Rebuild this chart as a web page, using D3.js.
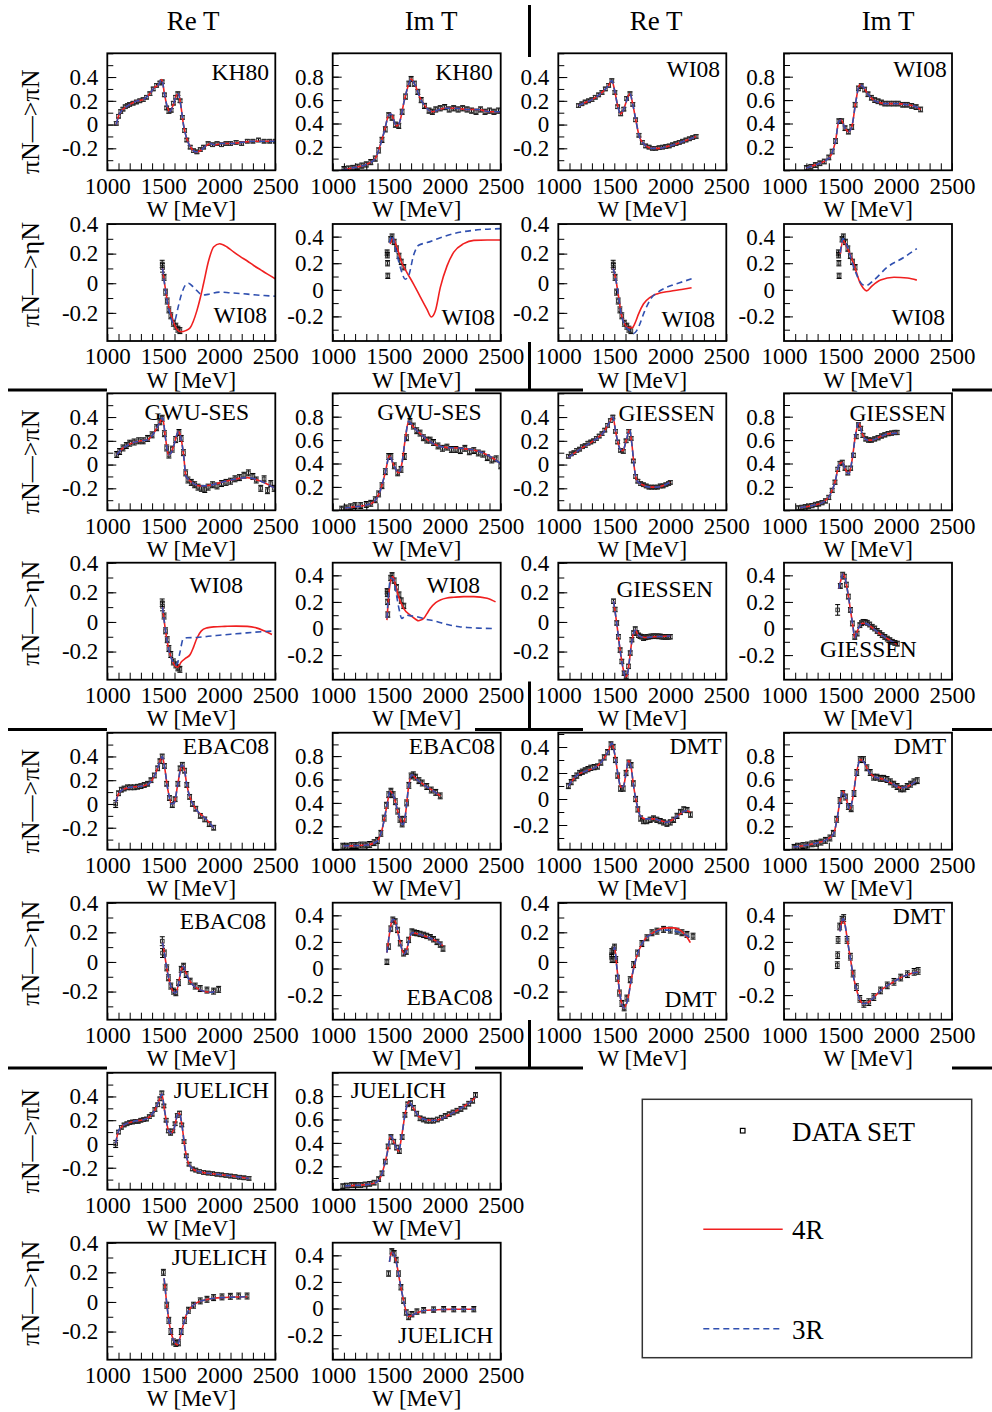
<!DOCTYPE html>
<html>
<head>
<meta charset="utf-8">
<script src="https://cdn.jsdelivr.net/npm/d3@7"></script>
<style>
  body { margin: 0; background: #fff; }
  svg text { font-family: "Liberation Serif", "Times New Roman", serif; fill: #000; }
</style>
</head>
<body>
<div id="chart"></div>
<script>
// ---- axis values ----
const wTicks = [1000, 1500, 2000, 2500];
const headers = ["Re T", "Im T", "Re T", "Im T"];
const rowLabels = ["πN—>πN", "πN—>ηN"];

// ---- data sets: [W, value, (error)] ----
const kh80PiReData = [[1080,0.01],[1100,0.07],[1120,0.11],[1140,0.13],[1160,0.15],[1180,0.16],[1200,0.17],[1230,0.18],[1260,0.19],[1290,0.2],[1320,0.21],[1350,0.23],[1380,0.26],[1410,0.3],[1440,0.33],[1470,0.35],[1490,0.36],[1510,0.25],[1530,0.14],[1550,0.11],[1570,0.12],[1590,0.18],[1610,0.23],[1630,0.26],[1650,0.2],[1670,0.06],[1690,-0.05],[1710,-0.13],[1740,-0.19],[1770,-0.22],[1800,-0.23],[1830,-0.21],[1860,-0.19],[1900,-0.16],[1940,-0.17],[1980,-0.16],[2020,-0.17],[2060,-0.16],[2100,-0.16],[2150,-0.15],[2200,-0.16],[2250,-0.14],[2300,-0.14],[2350,-0.13],[2400,-0.14],[2450,-0.14],[2500,-0.14]];
const kh80PiImData = [[1100,0.01],[1140,0.015],[1180,0.02],[1220,0.03],[1260,0.04],[1300,0.05],[1340,0.07],[1380,0.1],[1410,0.17],[1440,0.26],[1470,0.35],[1500,0.47],[1530,0.45],[1560,0.39],[1590,0.38],[1620,0.5],[1650,0.63],[1680,0.74],[1700,0.78],[1730,0.74],[1760,0.67],[1790,0.6],[1820,0.55],[1860,0.51],[1890,0.5],[1920,0.52],[1960,0.53],[2000,0.54],[2040,0.52],[2080,0.53],[2120,0.52],[2160,0.53],[2200,0.52],[2240,0.51],[2280,0.5],[2320,0.52],[2360,0.5],[2400,0.51],[2440,0.5],[2480,0.51]];
const wi08PiReData = [[1180,0.16],[1210,0.175],[1240,0.19],[1270,0.2],[1300,0.21],[1330,0.23],[1360,0.25],[1390,0.27],[1420,0.3],[1450,0.33],[1478,0.37],[1505,0.27],[1530,0.15],[1557,0.09],[1585,0.13],[1610,0.22],[1640,0.26],[1665,0.17],[1690,0.04],[1720,-0.09],[1750,-0.15],[1780,-0.18],[1810,-0.19],[1840,-0.2],[1870,-0.2],[1900,-0.195],[1930,-0.19],[1960,-0.185],[1990,-0.18],[2020,-0.17],[2050,-0.16],[2080,-0.15],[2110,-0.14],[2140,-0.13],[2170,-0.12],[2200,-0.11],[2230,-0.1]];
const wi08PiImData = [[1200,0.02],[1240,0.03],[1280,0.045],[1320,0.06],[1360,0.075],[1400,0.11],[1430,0.16],[1460,0.25],[1490,0.42],[1515,0.42],[1545,0.36],[1575,0.33],[1605,0.37],[1635,0.56],[1665,0.7],[1690,0.72],[1720,0.69],[1750,0.65],[1780,0.62],[1810,0.6],[1840,0.59],[1870,0.58],[1900,0.57],[1940,0.57],[1980,0.57],[2020,0.57],[2060,0.56],[2100,0.56],[2140,0.55],[2180,0.54],[2220,0.52]];
const wi08EtaReData = [[1490,0.13,0.025],[1493,0.105,0.03],[1507,0.04],[1520,-0.06],[1535,-0.12],[1550,-0.18],[1567,-0.22],[1590,-0.27],[1612,-0.29],[1630,-0.31],[1648,-0.32]];
const wi08EtaImData = [[1486,0.28],[1488,0.26],[1490,0.2],[1492,0.105],[1518,0.38],[1530,0.4],[1549,0.36],[1570,0.31],[1592,0.255],[1612,0.21],[1635,0.17]];
const gwuPiReData = [[1084,0.085],[1110,0.11],[1140,0.14],[1170,0.16],[1200,0.18],[1240,0.19],[1280,0.2],[1320,0.2],[1360,0.22],[1400,0.25],[1440,0.31],[1470,0.36],[1490,0.39],[1510,0.26],[1530,0.14],[1550,0.08],[1580,0.13],[1610,0.21],[1640,0.27],[1660,0.22],[1680,0.1],[1700,-0.07],[1720,-0.13],[1750,-0.15],[1780,-0.17],[1810,-0.19],[1840,-0.2],[1870,-0.21],[1900,-0.19],[1940,-0.17],[1980,-0.18],[2020,-0.16],[2060,-0.15],[2100,-0.14],[2140,-0.12],[2180,-0.11],[2220,-0.09],[2260,-0.07],[2300,-0.1],[2330,-0.13],[2370,-0.2],[2400,-0.12],[2430,-0.22],[2460,-0.16],[2490,-0.2]];
const gwuPiImData = [[1080,0.01],[1120,0.02],[1160,0.03],[1200,0.04],[1250,0.04],[1300,0.05],[1340,0.06],[1380,0.09],[1410,0.14],[1440,0.21],[1470,0.33],[1500,0.46],[1520,0.46],[1550,0.38],[1580,0.32],[1610,0.35],[1640,0.46],[1660,0.62],[1690,0.76],[1720,0.72],[1750,0.68],[1780,0.66],[1810,0.62],[1840,0.6],[1870,0.6],[1900,0.58],[1940,0.55],[1980,0.53],[2020,0.54],[2060,0.52],[2100,0.52],[2140,0.51],[2180,0.53],[2220,0.5],[2260,0.51],[2300,0.49],[2340,0.48],[2380,0.45],[2420,0.43],[2460,0.44],[2500,0.38]];
const giessenPiReData = [[1090,0.07],[1115,0.09],[1140,0.1],[1165,0.12],[1190,0.13],[1215,0.15],[1240,0.16],[1265,0.18],[1290,0.19],[1315,0.2],[1340,0.22],[1365,0.24],[1390,0.26],[1415,0.29],[1440,0.33],[1465,0.37],[1487,0.4],[1510,0.28],[1530,0.19],[1555,0.12],[1580,0.11],[1605,0.2],[1630,0.28],[1650,0.22],[1670,0.03],[1690,-0.1],[1710,-0.14],[1735,-0.16],[1760,-0.17],[1785,-0.18],[1810,-0.19],[1835,-0.19],[1860,-0.19],[1885,-0.19],[1910,-0.18],[1935,-0.18],[1960,-0.17],[1985,-0.16],[2000,-0.15]];
const giessenPiImData = [[1130,0.02],[1160,0.025],[1190,0.03],[1220,0.035],[1250,0.04],[1280,0.05],[1310,0.055],[1340,0.065],[1370,0.08],[1400,0.11],[1430,0.17],[1455,0.24],[1480,0.35],[1500,0.4],[1520,0.41],[1545,0.36],[1570,0.32],[1595,0.36],[1620,0.47],[1645,0.63],[1665,0.73],[1685,0.7],[1705,0.64],[1730,0.61],[1755,0.6],[1780,0.6],[1810,0.61],[1840,0.62],[1870,0.635],[1900,0.645],[1930,0.655],[1960,0.66],[1990,0.665],[2010,0.665]];
const giessenEtaReData = [[1493,0.14],[1507,0.084],[1522,-0.007],[1537,-0.1],[1552,-0.19],[1567,-0.267],[1588,-0.346],[1606,-0.37],[1627,-0.3],[1642,-0.21],[1657,-0.12],[1672,-0.075],[1687,-0.048],[1701,-0.075],[1716,-0.09],[1731,-0.097],[1746,-0.1],[1761,-0.11],[1776,-0.105],[1791,-0.1],[1806,-0.1],[1821,-0.098],[1836,-0.097],[1851,-0.097],[1866,-0.097],[1881,-0.097],[1896,-0.098],[1910,-0.097],[1925,-0.1],[1940,-0.1],[1955,-0.1],[1970,-0.1],[1985,-0.1],[2000,-0.1]];
const giessenEtaImData = [[1479,0.14,0.04],[1503,0.32],[1524,0.405],[1539,0.39],[1557,0.33],[1575,0.24],[1593,0.14],[1611,0.038],[1632,-0.063],[1653,-0.038],[1677,0.025],[1692,0.04],[1707,0.05],[1725,0.048],[1743,0.043],[1765,0.03],[1787,0.013],[1810,0.0],[1832,-0.018],[1855,-0.035],[1877,-0.05],[1900,-0.063],[1922,-0.076],[1945,-0.088],[1967,-0.1],[1990,-0.108],[2012,-0.114]];
const ebacPiReData = [[1075,0.0,0.03],[1100,0.09],[1125,0.12],[1150,0.13],[1180,0.14],[1210,0.14],[1240,0.14],[1270,0.145],[1300,0.15],[1330,0.16],[1360,0.17],[1390,0.2],[1420,0.24],[1450,0.3],[1470,0.36],[1490,0.4],[1510,0.32],[1530,0.17],[1555,0.05],[1580,-0.01],[1605,0.04],[1630,0.17],[1650,0.3],[1670,0.33],[1690,0.28],[1710,0.16],[1735,0.06],[1760,0.0],[1790,-0.04],[1830,-0.1],[1870,-0.13],[1910,-0.17],[1950,-0.2]];
const ebacPiImData = [[1090,0.03],[1130,0.03],[1170,0.035],[1210,0.035],[1250,0.04],[1290,0.04],[1330,0.045],[1370,0.06],[1400,0.08],[1430,0.14],[1460,0.27],[1480,0.38],[1500,0.47],[1520,0.5],[1540,0.47],[1560,0.41],[1580,0.33],[1600,0.26],[1620,0.22],[1640,0.26],[1660,0.4],[1680,0.55],[1700,0.63],[1720,0.64],[1740,0.62],[1770,0.59],[1800,0.57],[1840,0.54],[1880,0.51],[1920,0.49],[1960,0.46]];
const ebacEtaReData = [[1491,0.14,0.03],[1493,0.06,0.03],[1510,0.06],[1531,-0.04],[1546,-0.107],[1567,-0.163],[1591,-0.197],[1612,-0.208],[1636,-0.14],[1660,-0.05],[1681,-0.029],[1704,-0.085],[1740,-0.13],[1785,-0.163],[1830,-0.18],[1890,-0.19],[1949,-0.197],[1994,-0.185]];
const ebacEtaImData = [[1484,0.05],[1499,0.165],[1519,0.3],[1537,0.367],[1558,0.354],[1579,0.29],[1603,0.19],[1633,0.114],[1657,0.127],[1678,0.215],[1707,0.278],[1730,0.27],[1752,0.266],[1780,0.26],[1812,0.253],[1840,0.245],[1872,0.235],[1900,0.22],[1931,0.2],[1960,0.18],[1985,0.15]];
const dmtPiReData = [[1090,0.1],[1115,0.13],[1140,0.16],[1165,0.18],[1190,0.2],[1215,0.21],[1240,0.22],[1265,0.23],[1290,0.24],[1320,0.245],[1350,0.25],[1380,0.28],[1410,0.32],[1440,0.36],[1470,0.42],[1490,0.4],[1510,0.3],[1530,0.18],[1555,0.08],[1580,0.08],[1605,0.2],[1630,0.28],[1650,0.26],[1670,0.12],[1690,0.0],[1710,-0.08],[1735,-0.15],[1760,-0.17],[1790,-0.17],[1820,-0.16],[1850,-0.15],[1880,-0.16],[1910,-0.17],[1940,-0.18],[1970,-0.19],[2000,-0.18],[2030,-0.16],[2060,-0.13],[2090,-0.1],[2120,-0.08],[2150,-0.085],[2180,-0.12]];
const dmtPiImData = [[1090,0.02],[1130,0.03],[1170,0.035],[1210,0.04],[1250,0.05],[1290,0.055],[1330,0.065],[1370,0.08],[1410,0.1],[1440,0.14],[1470,0.26],[1500,0.42],[1525,0.48],[1550,0.45],[1575,0.37],[1600,0.35],[1625,0.48],[1650,0.66],[1680,0.77],[1710,0.77],[1740,0.7],[1770,0.66],[1800,0.62],[1830,0.62],[1860,0.61],[1890,0.61],[1920,0.6],[1950,0.58],[1980,0.56],[2010,0.54],[2040,0.52],[2070,0.52],[2100,0.54],[2130,0.56],[2160,0.58],[2190,0.59]];
const dmtEtaReData = [[1476,0.04],[1478,0.07],[1480,0.016],[1493,0.08],[1502,0.1],[1513,0.016],[1528,-0.11],[1546,-0.21],[1567,-0.28],[1588,-0.31],[1612,-0.244],[1642,-0.12],[1672,-0.018],[1707,0.06],[1746,0.124],[1791,0.163],[1836,0.197],[1881,0.208],[1940,0.22],[2000,0.215],[2060,0.208],[2104,0.197],[2149,0.186],[2203,0.174]];
const dmtEtaImData = [[1476,0.025],[1479,0.1],[1483,0.215],[1497,0.316],[1518,0.367],[1533,0.38],[1563,0.215],[1593,0.089],[1617,-0.038],[1647,-0.14],[1677,-0.228],[1713,-0.266],[1757,-0.253],[1802,-0.215],[1862,-0.165],[1922,-0.127],[1982,-0.1],[2042,-0.068],[2102,-0.043],[2162,-0.025],[2198,-0.018]];
const juelichPiReData = [[1075,0.0,0.03],[1100,0.1],[1125,0.14],[1150,0.16],[1175,0.17],[1200,0.18],[1225,0.185],[1250,0.19],[1275,0.19],[1300,0.2],[1325,0.205],[1350,0.21],[1375,0.23],[1400,0.25],[1425,0.29],[1450,0.33],[1470,0.38],[1487,0.43],[1505,0.32],[1525,0.2],[1545,0.11],[1565,0.09],[1585,0.11],[1605,0.17],[1625,0.24],[1645,0.26],[1665,0.16],[1685,0.02],[1705,-0.1],[1730,-0.17],[1760,-0.21],[1790,-0.22],[1820,-0.23],[1860,-0.24],[1900,-0.245],[1940,-0.25],[1980,-0.255],[2020,-0.26],[2060,-0.265],[2100,-0.27],[2140,-0.275],[2180,-0.28],[2220,-0.285],[2265,-0.29]];
const juelichPiImData = [[1090,0.03],[1130,0.035],[1170,0.04],[1210,0.04],[1250,0.04],[1290,0.045],[1330,0.05],[1370,0.06],[1410,0.09],[1440,0.14],[1470,0.24],[1495,0.37],[1520,0.45],[1545,0.41],[1570,0.36],[1595,0.33],[1620,0.45],[1645,0.64],[1670,0.73],[1695,0.74],[1720,0.7],[1750,0.65],[1780,0.61],[1810,0.6],[1840,0.59],[1870,0.59],[1900,0.59],[1935,0.6],[1970,0.615],[2005,0.63],[2040,0.645],[2075,0.66],[2110,0.675],[2145,0.69],[2180,0.71],[2215,0.735],[2250,0.76],[2275,0.81]];
const juelichEtaReData = [[1501,0.2],[1516,0.1],[1531,-0.022],[1549,-0.124],[1567,-0.2],[1591,-0.27],[1612,-0.28],[1636,-0.276],[1660,-0.2],[1690,-0.124],[1725,-0.056],[1770,-0.022],[1830,0.007],[1890,0.018],[1949,0.029],[2024,0.034],[2099,0.038],[2173,0.04],[2248,0.04]];
const juelichEtaImData = [[1499,0.263],[1528,0.43],[1549,0.416],[1567,0.365],[1588,0.263],[1609,0.16],[1633,0.059],[1657,-0.03],[1678,-0.064],[1707,-0.043],[1752,-0.023],[1812,-0.013],[1901,-0.008],[1991,-0.005],[2081,-0.005],[2170,-0.005],[2260,-0.005]];

// ---- fits: 4R (solid) and 3R (dashed), [W, value] ----
const kh80PiRe4R = [[1080,0.0],[1100,0.07],[1130,0.12],[1170,0.15],[1220,0.18],[1270,0.2],[1320,0.21],[1370,0.25],[1420,0.31],[1460,0.34],[1487,0.38],[1510,0.26],[1535,0.15],[1560,0.11],[1590,0.17],[1620,0.25],[1635,0.26],[1655,0.17],[1680,0.0],[1710,-0.12],[1750,-0.2],[1790,-0.23],[1830,-0.22],[1880,-0.18],[1920,-0.16],[1960,-0.17],[2020,-0.16],[2100,-0.16],[2200,-0.15],[2300,-0.14],[2400,-0.14],[2500,-0.14]];
const kh80PiIm4R = [[1080,0.0],[1150,0.015],[1200,0.025],[1300,0.05],[1380,0.1],[1420,0.2],[1460,0.33],[1500,0.47],[1520,0.48],[1570,0.38],[1600,0.42],[1640,0.6],[1680,0.74],[1700,0.78],[1730,0.74],[1780,0.62],[1840,0.53],[1890,0.5],[1950,0.52],[2000,0.53],[2100,0.53],[2200,0.52],[2300,0.52],[2400,0.5],[2500,0.5]];
const kh80EtaRe4R = [[1493,0.1],[1531,-0.095],[1576,-0.23],[1621,-0.31],[1660,-0.328],[1700,-0.32],[1740,-0.3],[1800,-0.185],[1830,-0.1],[1860,0.0],[1904,0.15],[1949,0.245],[2003,0.267],[2069,0.245],[2130,0.21],[2188,0.18],[2250,0.15],[2307,0.12],[2370,0.09],[2427,0.063],[2500,0.03]];
const kh80EtaRe3R = [[1493,0.1],[1530,-0.1],[1560,-0.21],[1590,-0.27],[1605,-0.25],[1630,-0.17],[1660,-0.08],[1700,-0.01],[1725,0.0],[1760,-0.02],[1800,-0.05],[1850,-0.08],[1900,-0.075],[2000,-0.06],[2100,-0.065],[2200,-0.07],[2300,-0.077],[2400,-0.083],[2500,-0.088]];
const kh80EtaIm4R = [[1513,0.345],[1537,0.385],[1573,0.32],[1618,0.2],[1663,0.13],[1722,0.043],[1782,-0.053],[1842,-0.147],[1881,-0.205],[1916,-0.16],[1961,0.018],[2021,0.18],[2081,0.283],[2170,0.347],[2260,0.372],[2380,0.375],[2500,0.375]];
const kh80EtaIm3R = [[1507,0.355],[1528,0.41],[1558,0.32],[1603,0.17],[1648,0.08],[1678,0.106],[1722,0.26],[1767,0.335],[1842,0.355],[1961,0.392],[2081,0.423],[2260,0.448],[2500,0.46]];
const wi08PiRe4R = [[1180,0.16],[1250,0.19],[1300,0.21],[1350,0.24],[1400,0.28],[1450,0.33],[1478,0.37],[1500,0.3],[1530,0.16],[1557,0.09],[1580,0.12],[1610,0.2],[1640,0.26],[1665,0.17],[1690,0.05],[1720,-0.09],[1760,-0.16],[1800,-0.19],[1840,-0.2],[1900,-0.2],[1970,-0.185],[2030,-0.17],[2090,-0.15],[2150,-0.13],[2230,-0.1]];
const wi08PiIm4R = [[1200,0.02],[1260,0.04],[1320,0.06],[1380,0.09],[1420,0.13],[1460,0.25],[1490,0.42],[1510,0.43],[1540,0.37],[1575,0.33],[1605,0.37],[1640,0.58],[1675,0.73],[1710,0.71],[1750,0.65],[1800,0.6],[1850,0.58],[1900,0.57],[2000,0.57],[2100,0.56],[2160,0.55],[2220,0.52]];
const wi08EtaRe4R = [[1490,0.1],[1515,0.02],[1540,-0.1],[1560,-0.2],[1590,-0.27],[1625,-0.3],[1660,-0.3],[1690,-0.26],[1715,-0.21],[1760,-0.14],[1820,-0.095],[1880,-0.072],[2000,-0.054],[2100,-0.042],[2190,-0.03]];
const wi08EtaRe3R = [[1490,0.1],[1515,0.02],[1540,-0.1],[1560,-0.2],[1600,-0.29],[1640,-0.32],[1670,-0.34],[1700,-0.32],[1720,-0.29],[1770,-0.19],[1830,-0.1],[1890,-0.06],[1960,-0.03],[2030,-0.01],[2110,0.01],[2190,0.03]];
const wi08EtaIm4R = [[1503,0.27],[1527,0.37],[1563,0.32],[1623,0.195],[1677,0.056],[1710,0.01],[1737,-0.008],[1787,0.03],[1862,0.073],[1982,0.094],[2102,0.089],[2186,0.073]];
const wi08EtaIm3R = [[1503,0.28],[1527,0.385],[1563,0.33],[1623,0.17],[1683,0.056],[1728,0.03],[1802,0.073],[1922,0.17],[2072,0.245],[2186,0.31]];
const gwuPiRe4R = [[1084,0.083],[1143,0.14],[1233,0.185],[1300,0.2],[1352,0.207],[1412,0.26],[1472,0.36],[1493,0.395],[1522,0.207],[1546,0.083],[1570,0.1],[1591,0.152],[1636,0.277],[1651,0.25],[1681,0.083],[1702,-0.097],[1725,-0.125],[1770,-0.16],[1830,-0.18],[1919,-0.174],[2009,-0.152],[2128,-0.125],[2248,-0.11],[2367,-0.138],[2487,-0.194]];
const gwuPiIm4R = [[1110,0.02],[1200,0.03],[1304,0.046],[1364,0.07],[1424,0.166],[1469,0.32],[1507,0.465],[1543,0.39],[1588,0.32],[1618,0.4],[1648,0.61],[1678,0.76],[1722,0.71],[1782,0.655],[1872,0.585],[1991,0.54],[2140,0.53],[2260,0.515],[2379,0.475],[2454,0.43],[2500,0.4]];
const gwuEtaRe4R = [[1493,0.1],[1520,-0.06],[1550,-0.19],[1580,-0.26],[1610,-0.3],[1630,-0.305],[1660,-0.27],[1700,-0.245],[1740,-0.22],[1770,-0.17],[1800,-0.11],[1840,-0.06],[1890,-0.04],[1950,-0.033],[2050,-0.03],[2150,-0.028],[2250,-0.03],[2330,-0.04],[2400,-0.06],[2470,-0.085]];
const gwuEtaRe3R = [[1493,0.1],[1520,-0.06],[1550,-0.19],[1580,-0.26],[1605,-0.29],[1625,-0.28],[1650,-0.2],[1675,-0.12],[1710,-0.107],[1800,-0.105],[1900,-0.097],[2000,-0.09],[2100,-0.083],[2200,-0.077],[2300,-0.07],[2400,-0.065],[2470,-0.062]];
const gwuEtaIm4R = [[1484,0.063],[1513,0.34],[1537,0.39],[1560,0.33],[1588,0.24],[1633,0.152],[1693,0.1],[1740,0.07],[1767,0.058],[1790,0.065],[1812,0.076],[1840,0.11],[1872,0.152],[1920,0.195],[1961,0.215],[2020,0.23],[2081,0.235],[2170,0.24],[2260,0.24],[2379,0.228],[2454,0.2]];
const gwuEtaIm3R = [[1484,0.076],[1519,0.38],[1543,0.367],[1570,0.25],[1588,0.165],[1618,0.076],[1640,0.09],[1663,0.1],[1700,0.095],[1752,0.089],[1830,0.07],[1901,0.058],[1980,0.04],[2051,0.025],[2130,0.013],[2200,0.008],[2300,0.003],[2454,0.0]];
const giessenPiRe4R = [[1090,0.06],[1194,0.13],[1313,0.2],[1403,0.27],[1457,0.355],[1487,0.4],[1516,0.257],[1552,0.13],[1576,0.117],[1606,0.2],[1636,0.29],[1657,0.173],[1678,-0.022],[1701,-0.134],[1746,-0.168],[1821,-0.19],[1881,-0.19],[1940,-0.176],[2000,-0.148]];
const giessenPiIm4R = [[1144,0.023],[1263,0.043],[1353,0.07],[1413,0.135],[1458,0.25],[1488,0.38],[1518,0.41],[1548,0.35],[1578,0.31],[1608,0.43],[1638,0.64],[1668,0.745],[1698,0.655],[1743,0.6],[1787,0.6],[1862,0.63],[1937,0.655],[2012,0.66]];
const giessenEtaRe4R = [[1493,0.14],[1520,0.0],[1550,-0.18],[1575,-0.3],[1600,-0.37],[1615,-0.36],[1635,-0.26],[1655,-0.14],[1675,-0.07],[1690,-0.055],[1710,-0.085],[1740,-0.1],[1780,-0.105],[1850,-0.1],[1920,-0.098],[2000,-0.095]];
const giessenEtaIm4R = [[1490,0.3],[1510,0.37],[1525,0.41],[1545,0.38],[1570,0.27],[1595,0.13],[1615,0.02],[1632,-0.07],[1650,-0.03],[1675,0.02],[1700,0.04],[1740,0.035],[1790,0.005],[1840,-0.03],[1900,-0.065],[1960,-0.095],[2012,-0.12]];
const ebacPiRe4R = [[1075,0.014],[1099,0.083],[1143,0.124],[1233,0.144],[1322,0.152],[1382,0.18],[1427,0.25],[1466,0.346],[1490,0.4],[1510,0.318],[1540,0.124],[1576,0.0],[1597,0.008],[1627,0.152],[1666,0.33],[1690,0.28],[1710,0.16],[1740,0.05],[1770,-0.01],[1800,-0.055],[1850,-0.1],[1900,-0.145],[1950,-0.2]];
const ebacPiIm4R = [[1096,0.032],[1200,0.035],[1304,0.04],[1394,0.07],[1439,0.166],[1484,0.376],[1513,0.5],[1543,0.46],[1588,0.306],[1627,0.214],[1648,0.29],[1678,0.54],[1707,0.64],[1752,0.6],[1812,0.557],[1901,0.5],[1961,0.46]];
const ebacEtaRe4R = [[1493,0.13],[1510,0.06],[1530,-0.04],[1555,-0.13],[1580,-0.19],[1610,-0.21],[1635,-0.15],[1655,-0.07],[1680,-0.03],[1700,-0.07],[1730,-0.12],[1770,-0.16],[1820,-0.185],[1870,-0.2],[1920,-0.205],[1960,-0.2]];
const ebacEtaIm4R = [[1484,0.12],[1500,0.22],[1520,0.33],[1540,0.37],[1560,0.35],[1590,0.24],[1620,0.14],[1640,0.11],[1660,0.14],[1690,0.24],[1710,0.27],[1760,0.26],[1820,0.245],[1880,0.225],[1940,0.2],[1985,0.17]];
const dmtPiRe4R = [[1090,0.1],[1164,0.18],[1254,0.217],[1343,0.25],[1403,0.306],[1448,0.37],[1478,0.43],[1507,0.33],[1537,0.166],[1558,0.09],[1582,0.1],[1606,0.204],[1627,0.293],[1648,0.255],[1672,0.1],[1701,-0.038],[1731,-0.128],[1776,-0.153],[1851,-0.153],[1910,-0.166],[1970,-0.18],[2030,-0.153],[2090,-0.115],[2134,-0.09],[2179,-0.1]];
const dmtPiIm4R = [[1084,0.023],[1263,0.05],[1383,0.088],[1443,0.135],[1473,0.26],[1503,0.43],[1527,0.5],[1557,0.43],[1587,0.346],[1617,0.458],[1647,0.654],[1683,0.77],[1713,0.75],[1757,0.668],[1802,0.626],[1892,0.6],[1982,0.556],[2042,0.528],[2102,0.54],[2177,0.584]];
const dmtEtaRe4R = [[1493,0.08],[1502,0.1],[1522,-0.03],[1552,-0.23],[1588,-0.31],[1618,-0.256],[1657,-0.097],[1701,0.038],[1761,0.14],[1851,0.2],[1920,0.225],[1970,0.23],[2030,0.23],[2104,0.204],[2164,0.15],[2179,0.13]];
const dmtEtaRe3R = [[1493,0.08],[1502,0.1],[1522,-0.03],[1552,-0.23],[1588,-0.31],[1618,-0.26],[1657,-0.1],[1701,0.04],[1761,0.14],[1851,0.195],[1920,0.215],[1970,0.215],[2030,0.21],[2100,0.195],[2180,0.165]];
const dmtEtaIm4R = [[1500,0.28],[1515,0.35],[1530,0.375],[1545,0.33],[1565,0.22],[1590,0.09],[1615,-0.04],[1645,-0.15],[1680,-0.24],[1710,-0.265],[1760,-0.25],[1810,-0.21],[1870,-0.16],[1930,-0.125],[1990,-0.095],[2050,-0.065],[2110,-0.045],[2170,-0.03],[2200,-0.025]];
const juelichPiRe4R = [[1075,0.005],[1099,0.105],[1143,0.156],[1233,0.19],[1322,0.204],[1382,0.232],[1427,0.29],[1466,0.374],[1487,0.42],[1510,0.29],[1540,0.133],[1567,0.09],[1597,0.133],[1627,0.246],[1645,0.26],[1666,0.16],[1696,-0.05],[1725,-0.164],[1770,-0.215],[1830,-0.235],[1979,-0.255],[2128,-0.272],[2263,-0.29]];
const juelichPiIm4R = [[1110,0.032],[1200,0.037],[1304,0.043],[1394,0.065],[1439,0.135],[1484,0.3],[1519,0.46],[1549,0.4],[1588,0.33],[1618,0.47],[1648,0.654],[1678,0.75],[1722,0.696],[1767,0.626],[1827,0.6],[1901,0.592],[1950,0.6],[2050,0.645],[2150,0.7],[2230,0.75],[2275,0.79]];
const juelichEtaRe4R = [[1507,0.16],[1525,0.03],[1545,-0.1],[1570,-0.21],[1600,-0.27],[1625,-0.29],[1650,-0.24],[1680,-0.15],[1710,-0.08],[1750,-0.035],[1800,-0.005],[1870,0.013],[1950,0.025],[2050,0.03],[2150,0.033],[2250,0.035]];
const juelichEtaIm4R = [[1507,0.35],[1525,0.42],[1545,0.41],[1570,0.34],[1600,0.2],[1630,0.07],[1655,-0.02],[1680,-0.06],[1710,-0.05],[1760,-0.03],[1820,-0.015],[1900,-0.01],[2000,-0.007],[2100,-0.005],[2270,-0.005]];

document.addEventListener('DOMContentLoaded', function() {
    const colLeft = [107.3, 332.7, 558.3, 784];
    const rowTop = [53.3, 224, 393.3, 562.7, 732.7, 902.7, 1072.7, 1242.7];
    const boxW = 168, boxH = 117;
    const red = "#f02020", blue = "#3050b0";

    const kinds = {
        reP:  { domain: [-0.385, 0.6],  labels: [-0.2, 0, 0.2, 0.4] },
        reP2: { domain: [-0.39, 0.51],  labels: [-0.2, 0, 0.2, 0.4] },
        imP:  { domain: [0, 1.0],       labels: [0.2, 0.4, 0.6, 0.8] },
        reE:  { domain: [-0.39, 0.4],   labels: [-0.2, 0, 0.2, 0.4] },
        imE:  { domain: [-0.385, 0.495], labels: [-0.2, 0, 0.2, 0.4] }
    };

    // the 3R curve lies on the 4R one wherever only one array is given
    const panels = [
        { row: 0, col: 0, kind: "reP", name: "KH80", lx: 161.7, ly: 26.7, data: kh80PiReData, err: 0.015, r4: kh80PiRe4R, r3: kh80PiRe4R },
        { row: 0, col: 1, kind: "imP", name: "KH80", lx: 160, ly: 26.7, data: kh80PiImData, err: 0.022, r4: kh80PiIm4R, r3: kh80PiIm4R },
        { row: 0, col: 2, kind: "reP", name: "WI08", lx: 161.7, ly: 24, data: wi08PiReData, err: 0.015, r4: wi08PiRe4R, r3: wi08PiRe4R },
        { row: 0, col: 3, kind: "imP", name: "WI08", lx: 162.7, ly: 24, data: wi08PiImData, err: 0.02, r4: wi08PiIm4R, r3: wi08PiIm4R },
        { row: 1, col: 0, kind: "reE", name: "WI08", lx: 159.7, ly: 99, data: wi08EtaReData, err: 0.02, r4: kh80EtaRe4R, r3: kh80EtaRe3R },
        { row: 1, col: 1, kind: "imE", name: "WI08", lx: 162.3, ly: 101, data: wi08EtaImData, err: 0.02, r4: kh80EtaIm4R, r3: kh80EtaIm3R },
        { row: 1, col: 2, kind: "reE", name: "WI08", lx: 156.7, ly: 103, data: wi08EtaReData, err: 0.02, r4: wi08EtaRe4R, r3: wi08EtaRe3R },
        { row: 1, col: 3, kind: "imE", name: "WI08", lx: 161, ly: 101, data: wi08EtaImData, err: 0.02, r4: wi08EtaIm4R, r3: wi08EtaIm3R },
        { row: 2, col: 0, kind: "reP", name: "GWU-SES", lx: 141.7, ly: 26.7, data: gwuPiReData, err: 0.025, r4: gwuPiRe4R, r3: gwuPiRe4R },
        { row: 2, col: 1, kind: "imP", name: "GWU-SES", lx: 149, ly: 26.7, data: gwuPiImData, err: 0.025, r4: gwuPiIm4R, r3: gwuPiIm4R },
        { row: 2, col: 2, kind: "reP", name: "GIESSEN", lx: 156.7, ly: 27.4, data: giessenPiReData, err: 0.015, r4: giessenPiRe4R, r3: giessenPiRe4R },
        { row: 2, col: 3, kind: "imP", name: "GIESSEN", lx: 162, ly: 27.7, data: giessenPiImData, err: 0.018, r4: giessenPiIm4R, r3: giessenPiIm4R },
        { row: 3, col: 0, kind: "reE", name: "WI08", lx: 135.7, ly: 30, data: wi08EtaReData, err: 0.02, r4: gwuEtaRe4R, r3: gwuEtaRe3R },
        { row: 3, col: 1, kind: "imE", name: "WI08", lx: 147.3, ly: 30.3, data: wi08EtaImData, err: 0.02, r4: gwuEtaIm4R, r3: gwuEtaIm3R },
        { row: 3, col: 2, kind: "reE", name: "GIESSEN", lx: 154.7, ly: 34.3, data: giessenEtaReData, err: 0.015, r4: giessenEtaRe4R, r3: giessenEtaRe4R },
        { row: 3, col: 3, kind: "imE", name: "GIESSEN", lx: 132.7, ly: 94.3, data: giessenEtaImData, err: 0.018, r4: giessenEtaIm4R, r3: giessenEtaIm4R },
        { row: 4, col: 0, kind: "reP", name: "EBAC08", lx: 161.7, ly: 21.3, data: ebacPiReData, err: 0.02, r4: ebacPiRe4R, r3: ebacPiRe4R },
        { row: 4, col: 1, kind: "imP", name: "EBAC08", lx: 162.3, ly: 21.3, data: ebacPiImData, err: 0.025, r4: ebacPiIm4R, r3: ebacPiIm4R },
        { row: 4, col: 2, kind: "reP2", name: "DMT", lx: 163.4, ly: 21.3, data: dmtPiReData, err: 0.02, r4: dmtPiRe4R, r3: dmtPiRe4R },
        { row: 4, col: 3, kind: "imP", name: "DMT", lx: 162, ly: 21.3, data: dmtPiImData, err: 0.025, r4: dmtPiIm4R, r3: dmtPiIm4R },
        { row: 5, col: 0, kind: "reE", name: "EBAC08", lx: 158.7, ly: 26.3, data: ebacEtaReData, err: 0.02, r4: ebacEtaRe4R, r3: ebacEtaRe4R },
        { row: 5, col: 1, kind: "imE", name: "EBAC08", lx: 160, ly: 102.3, data: ebacEtaImData, err: 0.02, r4: ebacEtaIm4R, r3: ebacEtaIm4R },
        { row: 5, col: 2, kind: "reE", name: "DMT", lx: 158.4, ly: 104, data: dmtEtaReData, err: 0.02, r4: dmtEtaRe4R, r3: dmtEtaRe3R },
        { row: 5, col: 3, kind: "imE", name: "DMT", lx: 161, ly: 21.3, data: dmtEtaImData, err: 0.025, r4: dmtEtaIm4R, r3: dmtEtaIm4R },
        { row: 6, col: 0, kind: "reP", name: "JUELICH", lx: 161.7, ly: 25, data: juelichPiReData, err: 0.015, r4: juelichPiRe4R, r3: juelichPiRe4R },
        { row: 6, col: 1, kind: "imP", name: "JUELICH", lx: 113.3, ly: 25.3, data: juelichPiImData, err: 0.02, r4: juelichPiIm4R, r3: juelichPiIm4R },
        { row: 7, col: 0, kind: "reE", name: "JUELICH", lx: 159.7, ly: 22.3, data: juelichEtaReData, err: 0.02, r4: juelichEtaRe4R, r3: juelichEtaRe4R },
        { row: 7, col: 1, kind: "imE", name: "JUELICH", lx: 160.6, ly: 100.3, data: juelichEtaImData, err: 0.02, r4: juelichEtaIm4R, r3: juelichEtaIm4R }
    ];

    const svg = d3.select("#chart").append("svg")
        .attr("width", 992)
        .attr("height", 1412);

    const fmt = d => d === 0 ? "0" : d.toFixed(1);

    panels.forEach(function(p, i) {
        const L = colLeft[p.col], T = rowTop[p.row];
        const k = kinds[p.kind];
        const x = d3.scaleLinear().domain([1000, 2500]).range([L, L + boxW]);
        const y = d3.scaleLinear().domain(k.domain).range([T + boxH, T]);
        const g = svg.append("g");

        g.append("clipPath").attr("id", "clip" + i)
            .append("rect").attr("x", L).attr("y", T).attr("width", boxW).attr("height", boxH);

        // bottom axis, ticks point inwards
        g.append("g")
            .attr("transform", `translate(0,${T + boxH})`)
            .call(d3.axisBottom(x)
                .tickValues(d3.range(1000, 2501, 100))
                .tickSize(-7).tickPadding(7)
                .tickFormat(d => wTicks.includes(d) ? d : ""))
            .call(a => a.select(".domain").remove())
            .call(a => a.selectAll("line").attr("stroke", "#000"))
            .call(a => a.selectAll("text").attr("font-size", 23).attr("font-family", "Liberation Serif"));

        // left axis: minor + labelled major ticks
        const lo = k.domain[0], hi = k.domain[1];
        const minor = d3.range(Math.ceil(lo * 10 - 1e-9), Math.floor(hi * 10 + 1e-9) + 1).map(v => v / 10);
        g.append("g")
            .attr("transform", `translate(${L},0)`)
            .call(d3.axisLeft(y).tickValues(minor).tickSize(-6).tickFormat(""))
            .call(a => a.select(".domain").remove())
            .call(a => a.selectAll("line").attr("stroke", "#000"));
        g.append("g")
            .attr("transform", `translate(${L},0)`)
            .call(d3.axisLeft(y).tickValues(k.labels).tickSize(-9).tickPadding(9).tickFormat(fmt))
            .call(a => a.select(".domain").remove())
            .call(a => a.selectAll("line").attr("stroke", "#000"))
            .call(a => a.selectAll("text").attr("font-size", 23).attr("font-family", "Liberation Serif"));

        // data with error bars
        const pts = g.append("g").attr("clip-path", `url(#clip${i})`);
        p.data.forEach(function(d) {
            const e = d.length > 2 ? d[2] : p.err;
            const px = x(d[0]);
            pts.append("line").attr("x1", px).attr("x2", px)
                .attr("y1", y(d[1] - e)).attr("y2", y(d[1] + e))
                .attr("stroke", "#000").attr("stroke-width", 1);
            [d[1] - e, d[1] + e].forEach(v => {
                pts.append("line").attr("x1", px - 2.5).attr("x2", px + 2.5)
                    .attr("y1", y(v)).attr("y2", y(v))
                    .attr("stroke", "#000").attr("stroke-width", 1);
            });
            pts.append("rect").attr("x", px - 1.8).attr("y", y(d[1]) - 1.8)
                .attr("width", 3.6).attr("height", 3.6)
                .attr("fill", "none").attr("stroke", "#333").attr("stroke-width", 1);
        });

        const line = d3.line().x(d => x(d[0])).y(d => y(d[1])).curve(d3.curveMonotoneX);
        g.append("path").datum(p.r4)
            .attr("clip-path", `url(#clip${i})`)
            .attr("d", line).attr("fill", "none")
            .attr("stroke", red).attr("stroke-width", 1.6);
        g.append("path").datum(p.r3)
            .attr("clip-path", `url(#clip${i})`)
            .attr("d", line).attr("fill", "none")
            .attr("stroke", blue).attr("stroke-width", 1.6)
            .attr("stroke-dasharray", "6,4");

        g.append("rect")
            .attr("x", L).attr("y", T).attr("width", boxW).attr("height", boxH)
            .attr("fill", "none").attr("stroke", "#000").attr("stroke-width", 1.8);

        g.append("text")
            .attr("x", L + p.lx).attr("y", T + p.ly)
            .attr("text-anchor", "end").attr("font-size", 23.5)
            .text(p.name);

        g.append("text")
            .attr("x", L + boxW / 2).attr("y", T + boxH + 46.5)
            .attr("text-anchor", "middle").attr("font-size", 23)
            .text("W [MeV]");
    });

    // row labels
    d3.range(8).forEach(function(r) {
        const cy = rowTop[r] + boxH / 2 + (r % 2 === 0 ? 10 : -8);
        svg.append("text")
            .attr("transform", `translate(39,${cy}) rotate(-90)`)
            .attr("text-anchor", "middle").attr("font-size", 26)
            .text(rowLabels[r % 2]);
    });

    // column headers
    [193, 431, 656, 888].forEach(function(cx, c) {
        svg.append("text")
            .attr("x", cx).attr("y", 30)
            .attr("text-anchor", "middle").attr("font-size", 27)
            .text(headers[c]);
    });

    // separators between the data-set blocks
    const sep = svg.append("g").attr("stroke", "#000").attr("stroke-width", 3);
    sep.append("line").attr("x1", 529.5).attr("x2", 529.5).attr("y1", 5).attr("y2", 57);
    [390, 729.5, 1068].forEach(function(yy) {
        sep.append("line").attr("x1", 8).attr("x2", 107).attr("y1", yy).attr("y2", yy);
        sep.append("line").attr("x1", 475).attr("x2", 583).attr("y1", yy).attr("y2", yy);
        sep.append("line").attr("x1", 952).attr("x2", 992).attr("y1", yy).attr("y2", yy);
        sep.append("line").attr("x1", 529.5).attr("x2", 529.5).attr("y1", yy - 48).attr("y2", yy);
    });

    // legend
    const lg = svg.append("g");
    lg.append("rect").attr("x", 642.3).attr("y", 1099.3).attr("width", 329.4).attr("height", 258.4)
        .attr("fill", "none").attr("stroke", "#333").attr("stroke-width", 1.5);
    lg.append("rect").attr("x", 740.4).attr("y", 1128.4).attr("width", 4.6).attr("height", 4.6)
        .attr("fill", "#fff").attr("stroke", "#000").attr("stroke-width", 1.2);
    lg.append("text").attr("x", 792).attr("y", 1141).attr("font-size", 27).text("DATA SET");
    lg.append("line").attr("x1", 703.3).attr("x2", 782.7).attr("y1", 1229.3).attr("y2", 1229.3)
        .attr("stroke", red).attr("stroke-width", 1.6);
    lg.append("text").attr("x", 792).attr("y", 1239).attr("font-size", 27).text("4R");
    lg.append("line").attr("x1", 703.3).attr("x2", 782.7).attr("y1", 1328.7).attr("y2", 1328.7)
        .attr("stroke", blue).attr("stroke-width", 1.6).attr("stroke-dasharray", "6,4");
    lg.append("text").attr("x", 792).attr("y", 1339.3).attr("font-size", 27).text("3R");
});
</script>
</body>
</html>
